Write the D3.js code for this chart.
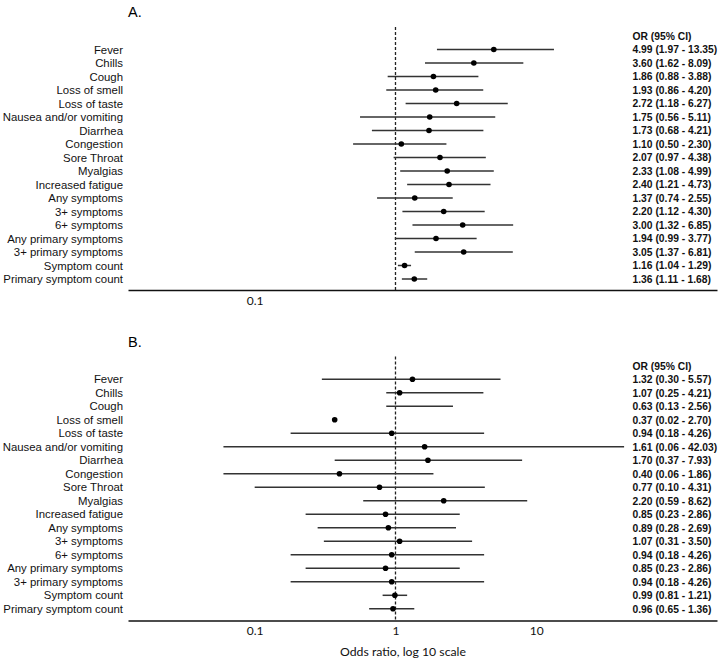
<!DOCTYPE html>
<html>
<head>
<meta charset="utf-8">
<script src="https://cdn.jsdelivr.net/npm/d3@7"></script>
<style>
  html, body { margin: 0; padding: 0; background: #fff; }
  svg { display: block; }
</style>
</head>
<body>
<svg id="chart" width="720" height="661"></svg>
<script>
// ---------- DATA ----------
const rows = ["Fever", "Chills", "Cough", "Loss of smell", "Loss of taste", "Nausea and/or vomiting",
  "Diarrhea", "Congestion", "Sore Throat", "Myalgias", "Increased fatigue", "Any symptoms",
  "3+ symptoms", "6+ symptoms", "Any primary symptoms", "3+ primary symptoms",
  "Symptom count", "Primary symptom count"];

// Panel A: printed and plotted values
const orA = [4.99, 3.60, 1.86, 1.93, 2.72, 1.75, 1.73, 1.10, 2.07, 2.33, 2.40, 1.37, 2.20, 3.00, 1.94, 3.05, 1.16, 1.36];
const loA = [1.97, 1.62, 0.88, 0.86, 1.18, 0.56, 0.68, 0.50, 0.97, 1.08, 1.21, 0.74, 1.12, 1.32, 0.99, 1.37, 1.04, 1.11];
const hiA = [13.35, 8.09, 3.88, 4.20, 6.27, 5.11, 4.21, 2.30, 4.38, 4.99, 4.73, 2.55, 4.30, 6.85, 3.77, 6.81, 1.29, 1.68];

// Panel B: printed values
const orB = [1.32, 1.07, 0.63, 0.37, 0.94, 1.61, 1.70, 0.40, 0.77, 2.20, 0.85, 0.89, 1.07, 0.94, 0.85, 0.94, 0.99, 0.96];
const loB = [0.30, 0.25, 0.13, 0.02, 0.18, 0.06, 0.37, 0.06, 0.10, 0.59, 0.23, 0.28, 0.31, 0.18, 0.23, 0.18, 0.81, 0.65];
const hiB = [5.57, 4.21, 2.56, 2.70, 4.26, 42.03, 7.93, 1.86, 4.31, 8.62, 2.86, 2.69, 3.50, 4.26, 2.86, 4.26, 1.21, 1.36];

// Panel B: values as drawn in the picture (some marks missing / truncated)
const orBplot = [1.32, 1.07, null, 0.37, 0.94, 1.61, 1.70, 0.40, 0.77, 2.20, 0.85, 0.89, 1.07, 0.94, 0.85, 0.94, 0.99, 0.96];
const loBplot = [0.30, 0.86, 0.86, null, 0.18, 0.06, 0.37, 0.06, 0.10, 0.59, 0.23, 0.28, 0.31, 0.18, 0.23, 0.18, 0.81, 0.65];
const hiBplot = [5.57, 4.21, 2.56, null, 4.26, 42.03, 7.93, 1.86, 4.31, 8.62, 2.86, 2.69, 3.50, 4.26, 2.86, 4.26, 1.21, 1.36];

const ticksA = [0.1];
const ticksB = [0.1, 1, 10];
const headerText = "OR (95% CI)";
const xTitle = "Odds ratio, log 10 scale";

// ---------- LAYOUT ----------
const svg = d3.select("#chart");
const f2 = d3.format(".2f");
const labelFont = "'Liberation Sans', Arial, sans-serif";
const tickFont = "Lato, 'Open Sans', sans-serif";

const x = d3.scaleLog().domain([0.0126, 192]).range([128, 717]);

function panel(opts) {
  const g = svg.append("g");
  const y = d3.scalePoint().domain(rows).range([opts.y0, opts.y0 + 13.5 * (rows.length - 1)]);

  // title
  g.append("text").attr("x", 128).attr("y", opts.titleY)
    .attr("font-family", labelFont).attr("font-size", 14.5).attr("fill", "#000")
    .text(opts.title);

  // reference dashed line at OR = 1
  g.append("line")
    .attr("x1", x(1)).attr("x2", x(1))
    .attr("y1", opts.dashTop).attr("y2", opts.axisY)
    .attr("stroke", "#222").attr("stroke-width", 1.3).attr("stroke-dasharray", "3,2");

  // row labels
  g.selectAll("text.lab").data(rows).join("text").attr("class", "lab")
    .attr("x", 123).attr("y", d => y(d)).attr("dy", "0.36em")
    .attr("text-anchor", "end").attr("font-family", labelFont).attr("font-size", 11.4)
    .attr("fill", "#111").text(d => d);

  // CI lines
  const ci = rows.map((r, i) => ({ r, lo: opts.lo[i], hi: opts.hi[i], or: opts.or[i] }));
  g.selectAll("line.ci").data(ci.filter(d => d.lo != null && d.hi != null)).join("line").attr("class", "ci")
    .attr("x1", d => x(d.lo)).attr("x2", d => x(d.hi))
    .attr("y1", d => y(d.r)).attr("y2", d => y(d.r))
    .attr("stroke", "#333").attr("stroke-width", 1.5);

  // points
  g.selectAll("circle.pt").data(ci.filter(d => d.or != null)).join("circle").attr("class", "pt")
    .attr("cx", d => x(d.or)).attr("cy", d => y(d.r)).attr("r", 2.8).attr("fill", "#000");

  // OR column
  g.append("text").attr("x", 632.5).attr("y", opts.y0 - 13.5).attr("dy", "0.36em")
    .attr("font-family", labelFont).attr("font-size", 10.3).attr("font-weight", "bold").attr("fill", "#111")
    .text(headerText);
  g.selectAll("text.or").data(rows.map((r, i) => ({ r, t: `${f2(opts.tor[i])} (${f2(opts.tlo[i])} - ${f2(opts.thi[i])})` })))
    .join("text").attr("class", "or")
    .attr("x", 632.5).attr("y", d => y(d.r)).attr("dy", "0.36em")
    .attr("font-family", labelFont).attr("font-size", 10.3).attr("font-weight", "bold").attr("fill", "#111")
    .text(d => d.t);

  // axis
  const ax = g.append("g").attr("transform", `translate(0,${opts.axisY})`)
    .call(d3.axisBottom(x).tickValues(opts.ticks).tickFormat(d => String(d)).tickSize(0).tickSizeOuter(0).tickPadding(6));
  ax.select(".domain").attr("stroke", "#111").attr("stroke-width", 1.5);
  ax.selectAll(".tick text").attr("font-family", tickFont).attr("font-size", 12).attr("fill", "#111");
  return g;
}

panel({ title: "A.", titleY: 17, y0: 49.5, dashTop: 27, axisY: 290,
  or: orA, lo: loA, hi: hiA, tor: orA, tlo: loA, thi: hiA, ticks: ticksA });
panel({ title: "B.", titleY: 347, y0: 379.3, dashTop: 356.5, axisY: 620.5,
  or: orBplot, lo: loBplot, hi: hiBplot, tor: orB, tlo: loB, thi: hiB, ticks: ticksB });

// x-axis title, fitted to the reference width
const t = svg.append("text").attr("x", 403).attr("y", 656).attr("text-anchor", "middle")
  .attr("font-family", tickFont).attr("font-size", 12).attr("fill", "#111").text(xTitle);
const w = t.node().getComputedTextLength();
if (w > 0) t.attr("font-size", 12 * 126 / w);
</script>
</body>
</html>
